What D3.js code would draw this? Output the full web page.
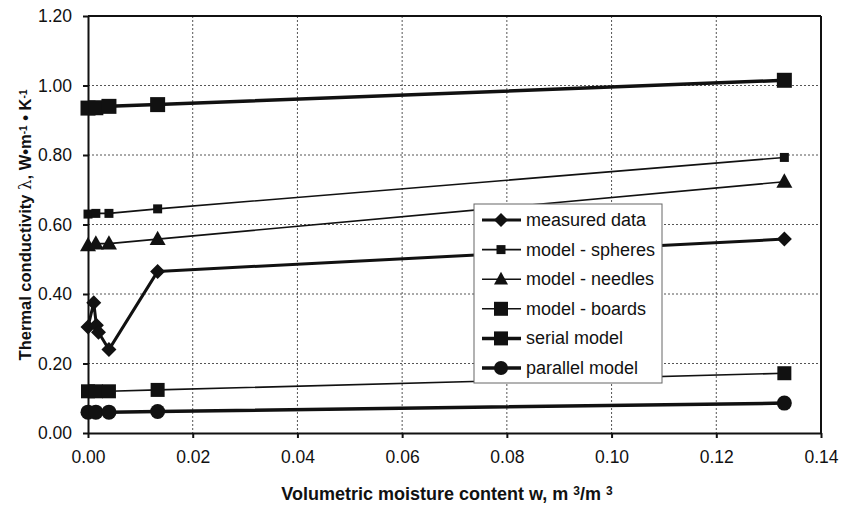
<!DOCTYPE html>
<html>
<head>
<meta charset="utf-8">
<script src="https://cdn.jsdelivr.net/npm/d3@7"></script>
<style>
  body { margin: 0; background: #fff; }
  svg { font-family: 'Liberation Sans', Arial, sans-serif; }
</style>
</head>
<body>
<div id="chart"></div>
<script>
const w = 844;
const h = 506;
const margin = {left: 88, top: 16, right: 23, bottom: 73};
const ink = '#111';

// x = volumetric moisture content, y = thermal conductivity
const measuredX = [0, 0.0011, 0.0016, 0.002, 0.004, 0.0133, 0.133];
const measuredY = [0.305, 0.375, 0.31, 0.29, 0.24, 0.465, 0.558];
const modelX = [0, 0.0015, 0.004, 0.0133, 0.133];
const spheresY = [0.630, 0.632, 0.632, 0.645, 0.793];
const needlesY = [0.540, 0.545, 0.545, 0.558, 0.723];
const boardsY = [0.120, 0.120, 0.120, 0.124, 0.172];
const serialY = [0.935, 0.936, 0.940, 0.945, 1.015];
const parallelY = [0.060, 0.060, 0.060, 0.062, 0.086];
const xTicks = [0, 0.02, 0.04, 0.06, 0.08, 0.10, 0.12, 0.14];
const yTicks = [0, 0.2, 0.4, 0.6, 0.8, 1.0, 1.2];

const series = [
  {name: 'measured data', x: measuredX, y: measuredY, lw: 3, marker: 'diamond', size: 15},
  {name: 'model - spheres', x: modelX, y: spheresY, lw: 1.6, marker: 'square', size: 9},
  {name: 'model - needles', x: modelX, y: needlesY, lw: 1.6, marker: 'triangle', size: 16},
  {name: 'model - boards', x: modelX, y: boardsY, lw: 1.6, marker: 'square', size: 14},
  {name: 'serial model', x: modelX, y: serialY, lw: 3.5, marker: 'square', size: 15},
  {name: 'parallel model', x: modelX, y: parallelY, lw: 3.5, marker: 'circle', size: 15}
];

const iw = w - margin.left - margin.right;
const ih = h - margin.top - margin.bottom;

const svg = d3.select('#chart')
              .append('svg')
              .attr('width', w)
              .attr('height', h);

const g = svg.append('g')
             .attr('transform', `translate(${margin.left}, ${margin.top})`);

const xScale = d3.scaleLinear().domain([0, 0.14]).range([0, iw]);
const yScale = d3.scaleLinear().domain([0, 1.2]).range([ih, 0]);

// grid
g.selectAll('line.hgrid')
  .data(yTicks.slice(1, -1))
  .enter()
  .append('line')
  .attr('x1', 0).attr('x2', iw)
  .attr('y1', d => yScale(d)).attr('y2', d => yScale(d))
  .attr('stroke', '#555').attr('stroke-width', 1).attr('stroke-dasharray', '2,2');

g.selectAll('line.vgrid')
  .data(xTicks.slice(1, -1))
  .enter()
  .append('line')
  .attr('x1', d => xScale(d)).attr('x2', d => xScale(d))
  .attr('y1', 0).attr('y2', ih)
  .attr('stroke', '#555').attr('stroke-width', 1).attr('stroke-dasharray', '2,2');

// frame top / right
g.append('line').attr('x1', 0).attr('x2', iw).attr('y1', 0).attr('y2', 0)
  .attr('stroke', ink).attr('stroke-width', 2);
g.append('line').attr('x1', iw).attr('x2', iw).attr('y1', 0).attr('y2', ih)
  .attr('stroke', ink).attr('stroke-width', 2);

// axes
const xAxis = g.append('g')
               .attr('transform', `translate(0, ${ih})`)
               .call(d3.axisBottom(xScale).tickValues(xTicks).tickFormat(d3.format('.2f'))
                       .tickSizeInner(5).tickSizeOuter(0).tickPadding(13));
const yAxis = g.append('g')
               .call(d3.axisLeft(yScale).tickValues(yTicks).tickFormat(d3.format('.2f'))
                       .tickSizeInner(5).tickSizeOuter(0).tickPadding(11));

[xAxis, yAxis].forEach(a => {
  a.select('.domain').attr('stroke', ink).attr('stroke-width', 2);
  a.selectAll('.tick line').attr('stroke', ink).attr('stroke-width', 2);
  a.selectAll('.tick text').attr('fill', ink).style('font-size', '17.5px').attr('font-family', null);
});

function markerPath(type, size) {
  const s = size / 2;
  if (type === 'diamond') return `M0,${-s}L${s},0L0,${s}L${-s},0Z`;
  if (type === 'square') return `M${-s},${-s}H${s}V${s}H${-s}Z`;
  if (type === 'triangle') return `M0,${-s * 1.05}L${s},${s * 0.75}L${-s},${s * 0.75}Z`;
  return d3.symbol(d3.symbolCircle, Math.PI * s * s)();
}

const line = d3.line().x(d => xScale(d[0])).y(d => yScale(d[1]));

series.forEach(s => {
  const pts = s.x.map((x, i) => [x, s.y[i]]);
  g.append('path')
    .datum(pts)
    .attr('d', line)
    .attr('fill', 'none')
    .attr('stroke', ink)
    .attr('stroke-width', s.lw)
    .attr('stroke-linejoin', 'round');
  g.selectAll(null)
    .data(pts)
    .enter()
    .append('path')
    .attr('d', markerPath(s.marker, s.size))
    .attr('transform', d => `translate(${xScale(d[0])}, ${yScale(d[1])})`)
    .attr('fill', ink);
});

// legend
const legend = svg.append('g').attr('transform', 'translate(474, 204)');
legend.append('rect')
  .attr('width', 188).attr('height', 179)
  .attr('fill', '#fff').attr('stroke', '#666').attr('stroke-width', 1);

series.forEach((s, i) => {
  const yy = 16 + i * 29.6;
  legend.append('line')
    .attr('x1', 8).attr('x2', 47).attr('y1', yy).attr('y2', yy)
    .attr('stroke', ink).attr('stroke-width', s.lw);
  legend.append('path')
    .attr('d', markerPath(s.marker, s.marker === 'square' && s.size < 10 ? 9 : Math.min(s.size, 14)))
    .attr('transform', `translate(27, ${yy})`)
    .attr('fill', ink);
  legend.append('text')
    .attr('x', 52).attr('y', yy + 6)
    .style('font-size', '18px')
    .attr('fill', ink)
    .text(s.name);
});

// axis titles
const xTitle = svg.append('text')
  .attr('x', 447).attr('y', 500)
  .attr('text-anchor', 'middle')
  .style('font-size', '18px').style('font-weight', 'bold')
  .attr('fill', ink);
xTitle.append('tspan').text('Volumetric moisture content w, m ');
xTitle.append('tspan').attr('baseline-shift', '40%').style('font-size', '12px').text('3');
xTitle.append('tspan').text('/m ');
xTitle.append('tspan').attr('baseline-shift', '40%').style('font-size', '12px').text('3');

const yTitle = svg.append('text')
  .attr('transform', 'translate(31, 225) rotate(-90)')
  .attr('text-anchor', 'middle')
  .style('font-size', '16.5px').style('font-weight', 'bold')
  .attr('fill', ink);
yTitle.append('tspan').text('Thermal conductivity ');
yTitle.append('tspan').style('font-weight', 'normal').attr('font-family', 'DejaVu Serif').text('\u03bb');
yTitle.append('tspan').text(', W\u2022m');
yTitle.append('tspan').attr('baseline-shift', '40%').style('font-size', '10px').text('-1');
yTitle.append('tspan').text(' \u2022 K');
yTitle.append('tspan').attr('baseline-shift', '40%').style('font-size', '10px').text('-1');
</script>
</body>
</html>
